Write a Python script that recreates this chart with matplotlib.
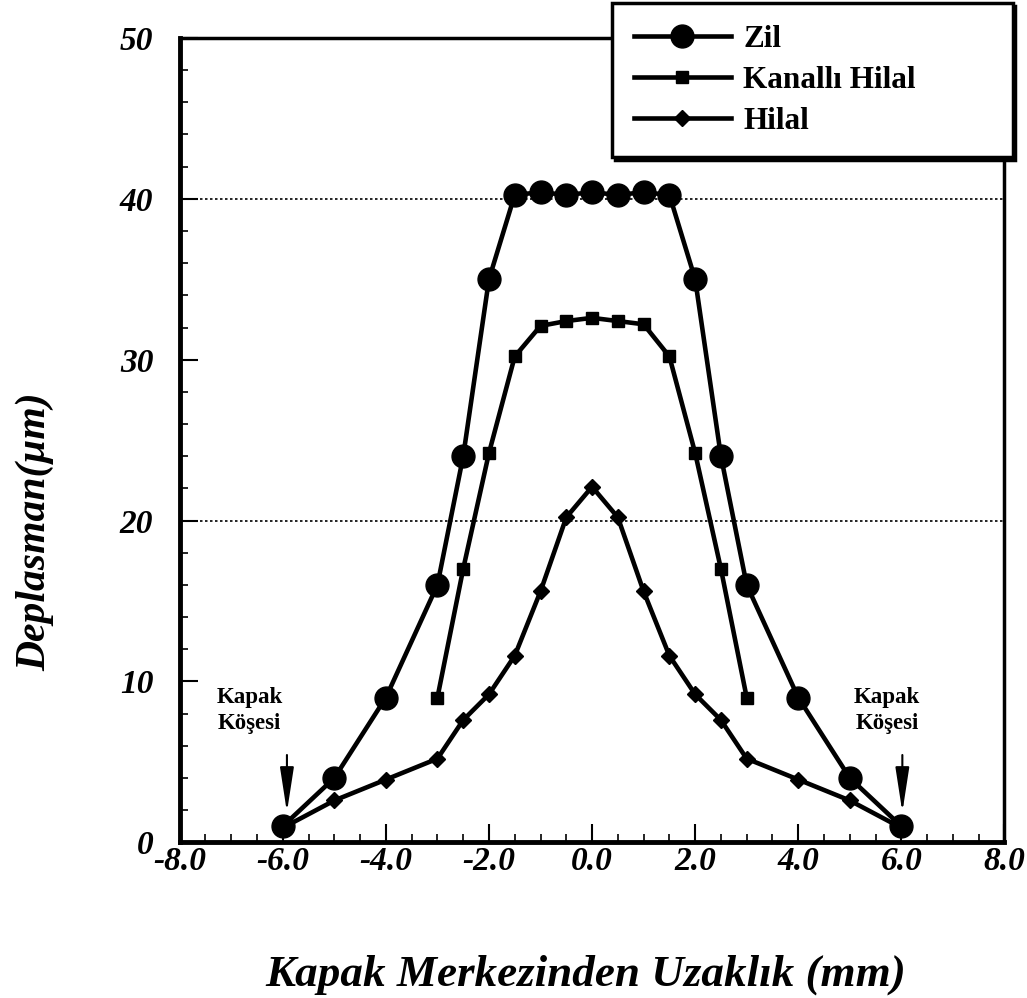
import numpy as np
import matplotlib
matplotlib.use('Agg')
from matplotlib import pyplot as plt
from matplotlib.ticker import MultipleLocator, FormatStrFormatter

plt.rcParams['font.family'] = ['Liberation Serif', 'DejaVu Serif']

# displacement along the cover (mm -> um)
x_zil = [-6, -5, -4, -3, -2.5, -2, -1.5, -1, -0.5, 0, 0.5, 1, 1.5, 2, 2.5, 3, 4, 5, 6]
y_zil = [1, 4, 9, 16, 24, 35, 40.25, 40.4, 40.25, 40.4, 40.25, 40.4, 40.25, 35, 24, 16, 9, 4, 1]

x_kanal = [-3, -2.5, -2, -1.5, -1, -0.5, 0, 0.5, 1, 1.5, 2, 2.5, 3]
y_kanal = [9, 17, 24.2, 30.2, 32.1, 32.4, 32.6, 32.4, 32.2, 30.2, 24.2, 17, 9]

x_hilal = [-6, -5, -4, -3, -2.5, -2, -1.5, -1, -0.5, 0, 0.5, 1, 1.5, 2, 2.5, 3, 4, 5, 6]
y_hilal = [0.9, 2.6, 3.9, 5.2, 7.6, 9.2, 11.6, 15.6, 20.2, 22.1, 20.2, 15.6, 11.6, 9.2, 7.6, 5.2, 3.9, 2.6, 0.9]

labels = ['Zil', 'Kanallı Hilal', 'Hilal']

fig = plt.figure(figsize=(10.27, 9.98), dpi=100)
ax = fig.add_axes([0.175, 0.156, 0.803, 0.806])

ax.plot(x_zil, y_zil, '-o', color='k', lw=3.3, ms=16.5, label=labels[0], zorder=3)
ax.plot(x_kanal, y_kanal, '-s', color='k', lw=3.3, ms=8.5, label=labels[1], zorder=3)
ax.plot(x_hilal, y_hilal, '-D', color='k', lw=3.3, ms=8.5, label=labels[2], zorder=3)

for g in [20, 40]:
    ax.axhline(g, color='k', lw=1.2, ls=(0, (1.5, 1.5)), zorder=1)

ax.set_xlim(-8, 8)
ax.set_ylim(0, 50)
ax.xaxis.set_major_locator(MultipleLocator(2))
ax.xaxis.set_minor_locator(MultipleLocator(0.5))
ax.yaxis.set_major_locator(MultipleLocator(10))
ax.yaxis.set_minor_locator(MultipleLocator(2))
ax.xaxis.set_major_formatter(FormatStrFormatter('%.1f'))
ax.tick_params(which='both', direction='in', top=False, right=False, color='k')
ax.tick_params(which='major', length=13, width=1.5)
ax.tick_params(which='minor', length=6, width=1.2)
ax.tick_params(axis='x', which='major', pad=3)
ax.tick_params(axis='y', which='major', pad=19)
for lab in ax.get_xticklabels() + ax.get_yticklabels():
    lab.set_fontsize(24)
    lab.set_fontweight('bold')
    lab.set_fontstyle('italic')

for s in ['left', 'bottom']:
    ax.spines[s].set_linewidth(3.5)
for s in ['top', 'right']:
    ax.spines[s].set_linewidth(2.5)

ax.set_xlabel('Kapak Merkezinden Uzaklık (mm)', fontsize=32.5, fontweight='bold', fontstyle='italic')
ax.xaxis.set_label_coords(0.492, -0.14)
ax.set_ylabel('Deplasman(µm)', fontsize=30, fontweight='bold', fontstyle='italic')
ax.yaxis.set_label_coords(-0.152, 0.386)

# corner markers
for tx, arr_x in [(-6.65, -5.92), (5.72, 6.02)]:
    ax.text(tx, 8.2, 'Kapak\nKöşesi', fontsize=16.5, fontweight='bold',
            ha='center', va='center', linespacing=1.35)
    ax.annotate('', xy=(arr_x, 1.7), xytext=(arr_x, 5.6),
                arrowprops=dict(arrowstyle='-|>,head_length=1.1,head_width=0.17',
                                color='k', lw=1.5, mutation_scale=25))

leg = fig.legend(loc='upper left', bbox_to_anchor=(0.596, 0.853, 0.39, 0.144),
                 mode='expand', prop={'weight': 'bold', 'size': 22.5},
                 frameon=True, fancybox=False, shadow={'color': 'k', 'alpha': 1},
                 handlelength=3.1, borderpad=0.7, labelspacing=0.38,
                 handletextpad=0.4, borderaxespad=0)
leg.get_frame().set_edgecolor('k')
leg.get_frame().set_linewidth(2.5)
leg.get_frame().set_alpha(1)

fig.savefig('out.png', dpi=100)
